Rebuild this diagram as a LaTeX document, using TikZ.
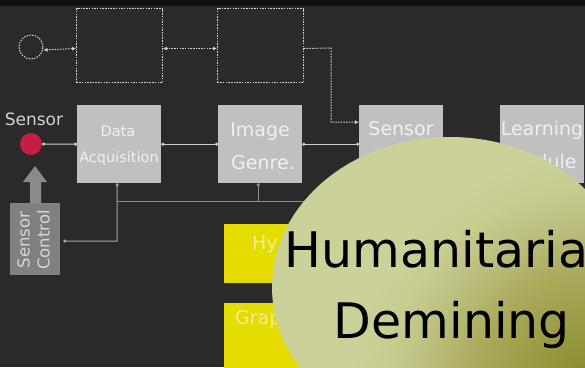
\documentclass[tikz,border=0pt]{standalone}
\usepackage{fontspec}
\setmainfont{DejaVu Sans}
\usetikzlibrary{arrows.meta,shapes.geometric}
\definecolor{bg}{HTML}{2A2A2A}
\definecolor{topbar}{HTML}{101010}
\definecolor{boxg}{HTML}{C0C0C0}
\definecolor{boxt}{HTML}{F0F0F0}
\definecolor{linec}{HTML}{D0D0D0}
\definecolor{lineg}{HTML}{8E8E8E}
\definecolor{sensred}{HTML}{C41E46}
\definecolor{scgray}{HTML}{808080}
\definecolor{arrgray}{HTML}{8A8A8A}
\definecolor{sctext}{HTML}{D6D6D6}
\definecolor{yel}{HTML}{E5DC00}
\definecolor{yelt}{HTML}{F0EC9C}
\definecolor{lbl}{HTML}{D0D0D0}
\definecolor{olight}{rgb}{0.80,0.82,0.60}
\pgfdeclareradialshading{olv}{\pgfpoint{0bp}{0bp}}{%
 rgb(0bp)=(0.53,0.53,0.18);
 rgb(4bp)=(0.56,0.56,0.21);
 rgb(12.5bp)=(0.66,0.66,0.35);
 rgb(18bp)=(0.74,0.75,0.50);
 rgb(21.5bp)=(0.78,0.80,0.56);
 rgb(25bp)=(0.80,0.82,0.60);
 rgb(50bp)=(0.80,0.82,0.60)}
\tikzset{
 gbox/.style={fill=boxg, minimum width=84pt, minimum height=78pt, inner sep=0pt, anchor=north west},
 dbox/.style={draw=linec, dash pattern=on 1.5pt off 1.2pt, line width=1pt, minimum width=86pt, minimum height=74pt, inner sep=0pt, anchor=north west},
 ybox/.style={fill=yel, minimum width=84pt, inner sep=0pt, anchor=north west},
 btxt/.style={text=boxt, anchor=base, inner sep=0pt, font=\fontsize{19}{19}\selectfont},
 stxt/.style={text=boxt, anchor=base, inner sep=0pt, font=\fontsize{14.5}{14.5}\selectfont},
 ytxt/.style={text=yelt, anchor=base west, inner sep=0pt, font=\fontsize{19}{19}\selectfont},
 conn/.style={draw=linec, line width=1pt, {Circle[length=3pt]}-{Circle[length=3pt]}},
 dconn/.style={draw=linec, line width=1pt, dash pattern=on 1.5pt off 1.2pt},
 dtip/.tip={Latex[length=4pt,width=4pt]},
 sline/.style={draw=lineg, line width=1pt},
 ttl/.style={text=black, anchor=base, inner sep=0pt, font=\fontsize{49}{49}\selectfont},
}
\begin{document}
\begin{tikzpicture}[x=1pt,y=-1pt]
\useasboundingbox (0,0) rectangle (585,367);
\clip (0,0) rectangle (585,367);
\fill[bg] (0,0) rectangle (585,367);
\fill[topbar] (0,0) rectangle (585,5.5);

% top dashed row
\node[draw=linec, dash pattern=on 1.5pt off 1.2pt, line width=1pt, circle, minimum size=24pt, inner sep=0pt] (dc) at (31,47) {};
\node[dbox] (db1) at (76,8) {};
\node[dbox] (db2) at (217,8) {};

% main row
\node[circle, fill=sensred, minimum size=22pt, inner sep=0pt] (sens) at (31,144) {};
\node[text=lbl, anchor=base, inner sep=0pt, font=\fontsize{17}{17}\selectfont] (senslbl) at (34,125) {Sensor};
\node[gbox] (da) at (77,105) {};
\node[stxt] (da1) at (118,136) {Data};
\node[stxt] (da2) at (119,162) {Acquisition};
\node[gbox] (ig) at (218,105) {};
\node[btxt] (ig1) at (260,136) {Image};
\node[btxt] (ig2) at (263,169) {Genre.};
\node[gbox] (sb) at (359,105) {};
\node[btxt] (sb1) at (401,135) {Sensor};
\node[gbox] (lb) at (500,105) {};
\node[btxt] (lb1) at (542,135) {Learning};
\node[btxt] (lb2) at (542,168) {Module};

% sensor control
\node[fill=scgray, minimum width=50pt, minimum height=72pt, inner sep=0pt, anchor=north west] (sc) at (10,203) {};
\node[text=sctext, rotate=90, align=center, inner sep=0pt, font=\fontsize{16.5}{20}\selectfont] (sct) at (33.5,240) {Sensor\\Control};
\fill[arrgray] (30,203) -- (30,182) -- (23,182) -- (35,166) -- (47,182) -- (41,182) -- (41,203) -- cycle;

% yellow boxes
\node[ybox, minimum height=59pt] (y1) at (224,224) {};
\node[ytxt] (y1t) at (252,249) {Hy};
\node[ybox, minimum height=70pt] (y2) at (224,303) {};
\node[ytxt] (y2t) at (235,324) {Grap};

% connectors
\draw[dconn, dtip-dtip] ([yshift=-3pt]db1.west) -- ([yshift=-3pt]dc.east);
\draw[dconn, dtip-dtip] ([yshift=-3pt]db2.west) -- ([yshift=-3pt]db1.east);
\coordinate (bend) at (331,48);
\draw[dconn, -dtip] ([yshift=-3pt]db2.east) -- (bend) -- (bend |- 0,122) -- ([yshift=22pt]sb.west);
\draw[conn] (sens.east) -- (da.west);
\draw[conn] (da.east) -- (ig.west);
\draw[conn] (ig.east) -- (sb.west);
\coordinate (jr) at (585,201);
\coordinate (j3) at (117,241);
\draw[sline] ([xshift=-2pt]da.south |- jr) -- (jr);
\draw[draw=linec!80!black, line width=1pt, {Circle[length=3pt,fill=white]}-{Circle[length=3pt,fill=white]}] ([xshift=-2pt]da.south) -- (j3) -- ([xshift=3pt]sc.east |- j3);
\draw[draw=lineg, line width=1pt, {Circle[length=3pt,fill=white]}-] ([xshift=-2pt]ig.south) -- ([xshift=-2pt]ig.south |- jr);

% big blob
\node[ellipse, fill=olight, minimum width=356pt, minimum height=300pt, inner sep=0pt] (blob) at (450,287) {};
\begin{scope}
\clip (blob.center) ellipse [x radius=178, y radius=150];
\shade[shading=olv] (600,400) circle [radius=250];
\end{scope}
\node[ttl] (t1) at (452,267) {Humanitarian};
\node[ttl] (t2) at (452,338) {Demining};
\end{tikzpicture}
\end{document}
